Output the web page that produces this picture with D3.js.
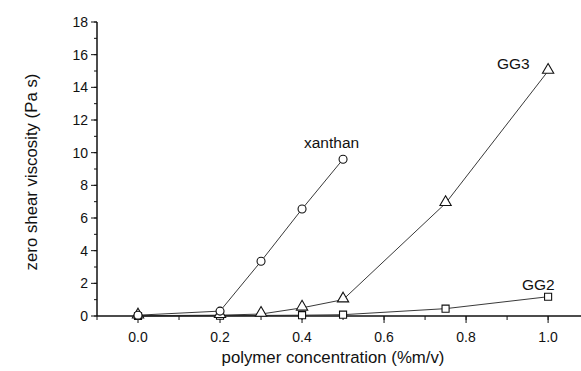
<!DOCTYPE html>
<html>
<head>
<meta charset="utf-8">
<script src="https://cdn.jsdelivr.net/npm/d3@7"></script>
<style>
  body { margin: 0; background: #fff; }
  text { font-family: "Liberation Sans", Arial, sans-serif; fill: #111; }
</style>
</head>
<body>
<svg id="chart"></svg>
<script>
// data
let xanthanX = [0.0, 0.2, 0.3, 0.4, 0.5]
let xanthanY = [0.05, 0.3, 3.35, 6.55, 9.6]
let gg3X = [0.0, 0.2, 0.3, 0.4, 0.5, 0.75, 1.0]
let gg3Y = [0.02, 0.05, 0.12, 0.5, 1.0, 6.9, 15.0]
let gg2X = [0.0, 0.2, 0.4, 0.5, 0.75, 1.0]
let gg2Y = [0.0, 0.02, 0.05, 0.08, 0.45, 1.18]
let xTicks = [0.0, 0.2, 0.4, 0.6, 0.8, 1.0]
let yTicks = [0, 2, 4, 6, 8, 10, 12, 14, 16, 18]

let width = 581, height = 371

let svg = d3.select('#chart')
  .attr("width", width)
  .attr("height", height)

let x = d3.scaleLinear().domain([-0.1, 1.0778]).range([97, 580])
let y = d3.scaleLinear().domain([0, 18]).range([316, 22])

// minor ticks
let xMinor = d3.range(-0.1, 1.08, 0.1)
let yMinor = d3.range(0, 18.5, 1)

let g = svg.append("g").attr("stroke", "#111").attr("fill", "none")
g.append("line").attr("x1", x(-0.1)).attr("x2", width).attr("y1", y(0)).attr("y2", y(0)).attr("stroke-width", 1.5)
g.append("line").attr("x1", x(-0.1)).attr("x2", x(-0.1)).attr("y1", y(0)).attr("y2", y(18)).attr("stroke-width", 1.5)

g.selectAll(".xmin").data(xMinor).enter().append("line")
  .attr("x1", d => x(d)).attr("x2", d => x(d))
  .attr("y1", y(0)).attr("y2", y(0) + 4)
g.selectAll(".xmaj").data(xTicks).enter().append("line")
  .attr("x1", d => x(d)).attr("x2", d => x(d))
  .attr("y1", y(0)).attr("y2", y(0) + 7)
g.selectAll(".ymin").data(yMinor).enter().append("line")
  .attr("x1", x(-0.1) - 3).attr("x2", x(-0.1))
  .attr("y1", d => y(d)).attr("y2", d => y(d))
g.selectAll(".ymaj").data(yTicks).enter().append("line")
  .attr("x1", x(-0.1) - 6).attr("x2", x(-0.1))
  .attr("y1", d => y(d)).attr("y2", d => y(d))

svg.selectAll(".xl").data(xTicks).enter().append("text")
  .attr("x", d => x(d)).attr("y", 342)
  .attr("text-anchor", "middle").attr("font-size", 14)
  .text(d => d.toFixed(1))
svg.selectAll(".yl").data(yTicks).enter().append("text")
  .attr("x", x(-0.1) - 9).attr("y", d => y(d) + 5)
  .attr("text-anchor", "end").attr("font-size", 14)
  .text(d => d)

svg.append("text").attr("x", 333).attr("y", 363)
  .attr("text-anchor", "middle").attr("font-size", 16.8)
  .text("polymer concentration (%m/v)")
svg.append("text")
  .attr("transform", "translate(37,172) rotate(-90)")
  .attr("text-anchor", "middle").attr("font-size", 16.8)
  .text("zero shear viscosity (Pa s)")

let line = d3.line().x(d => x(d[0])).y(d => y(d[1]))

function series(xs, ys, shape) {
  let pts = xs.map((v, i) => [v, ys[i]])
  svg.append("path").datum(pts)
    .attr("d", line).attr("fill", "none").attr("stroke", "#222").attr("stroke-width", 0.9)
  let sym = d3.symbol().type(shape).size(shape === d3.symbolTriangle ? 55 : 50)
  svg.selectAll(null).data(pts).enter().append("path")
    .attr("d", sym)
    .attr("transform", d => "translate(" + x(d[0]) + "," + (y(d[1]) - (shape === d3.symbolTriangle ? 1 : 0)) + ")")
    .attr("fill", "#fff").attr("stroke", "#111").attr("stroke-width", 1.1)
}

series(gg2X, gg2Y, d3.symbolSquare)
series(gg3X, gg3Y, d3.symbolTriangle)
series(xanthanX, xanthanY, d3.symbolCircle)

svg.append("text").attr("x", 304).attr("y", 148).attr("font-size", 15.5).text("xanthan")
svg.append("text").attr("x", 497).attr("y", 69).attr("font-size", 15.5).text("GG3")
svg.append("text").attr("x", 522).attr("y", 290).attr("font-size", 15.5).text("GG2")
</script>
</body>
</html>
